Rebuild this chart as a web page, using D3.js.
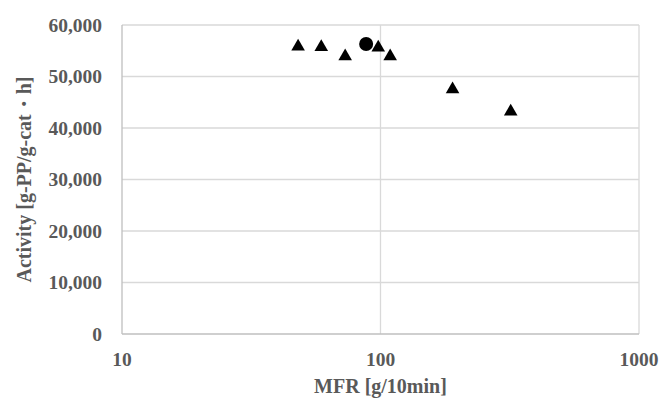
<!DOCTYPE html>
<html>
<head>
<meta charset="utf-8">
<script src="https://cdn.jsdelivr.net/npm/d3@7"></script>
<style>
  body { margin: 0; background: #fff; }
  svg text { font-family: "Liberation Serif", "Times New Roman", serif; font-weight: bold; fill: #595959; }
</style>
</head>
<body>
<div id="chart"></div>
<script>
// MFR vs activity
const triMFR = [48, 59, 73, 98, 109, 190, 319];
const triActivity = [56000, 55900, 54100, 55800, 54100, 47700, 43400];
const circleMFR = [88];
const circleActivity = [56300];
const xTicks = [10, 100, 1000];
const yTicks = [0, 10000, 20000, 30000, 40000, 50000, 60000];

const width = 662, height = 400;
const margin = {left: 122, right: 23, top: 25, bottom: 66};

const svg = d3.select("#chart").append("svg")
    .attr("width", width)
    .attr("height", height);

const x = d3.scaleLog().domain([10, 1000]).range([margin.left, width - margin.right]);
const y = d3.scaleLinear().domain([0, 60000]).range([height - margin.bottom, margin.top]);

// gridlines
svg.append("g").selectAll("line.h")
    .data(yTicks.filter(d => d > 0))
    .enter().append("line")
    .attr("x1", x(10)).attr("x2", x(1000))
    .attr("y1", d => y(d)).attr("y2", d => y(d))
    .attr("stroke", "#d9d9d9").attr("stroke-width", 1.3);

svg.append("g").selectAll("line.v")
    .data(xTicks.filter(d => d > 10))
    .enter().append("line")
    .attr("x1", d => x(d)).attr("x2", d => x(d))
    .attr("y1", y(0)).attr("y2", y(60000))
    .attr("stroke", "#d9d9d9").attr("stroke-width", 1.3);

// axis lines
svg.append("line")
    .attr("x1", x(10)).attr("x2", x(10))
    .attr("y1", y(0)).attr("y2", y(60000))
    .attr("stroke", "#bfbfbf").attr("stroke-width", 1.3);
svg.append("line")
    .attr("x1", x(10)).attr("x2", x(1000))
    .attr("y1", y(0)).attr("y2", y(0))
    .attr("stroke", "#bfbfbf").attr("stroke-width", 1.3);

// tick labels
const fmt = d3.format(",");
svg.append("g").selectAll("text")
    .data(yTicks)
    .enter().append("text")
    .attr("x", margin.left - 20)
    .attr("y", d => y(d))
    .attr("dy", "0.35em")
    .attr("text-anchor", "end")
    .style("font-size", "19.5px")
    .text(d => fmt(d));

svg.append("g").selectAll("text")
    .data(xTicks)
    .enter().append("text")
    .attr("x", d => x(d))
    .attr("y", 366)
    .attr("text-anchor", "middle")
    .style("font-size", "19.5px")
    .text(d => d);

// axis titles
svg.append("text")
    .attr("x", (x(10) + x(1000)) / 2)
    .attr("y", 393)
    .attr("text-anchor", "middle")
    .style("font-size", "20px")
    .text("MFR [g/10min]");

svg.append("text")
    .attr("transform", `translate(24, ${(y(0) + y(60000)) / 2}) rotate(-90)`)
    .attr("dy", "0.35em")
    .attr("text-anchor", "middle")
    .style("font-size", "20px")
    .text("Activity [g-PP/g-cat・h]");

// markers
const tri = d3.symbol().type(d3.symbolTriangle).size(80);
svg.append("g").selectAll("path")
    .data(triMFR.map((m, i) => [m, triActivity[i]]))
    .enter().append("path")
    .attr("d", tri)
    .attr("transform", d => `translate(${x(d[0])},${y(d[1]) + 1})`)
    .attr("fill", "#000");

svg.append("g").selectAll("circle")
    .data(circleMFR.map((m, i) => [m, circleActivity[i]]))
    .enter().append("circle")
    .attr("cx", d => x(d[0]))
    .attr("cy", d => y(d[1]))
    .attr("r", 7)
    .attr("fill", "#000");
</script>
</body>
</html>
